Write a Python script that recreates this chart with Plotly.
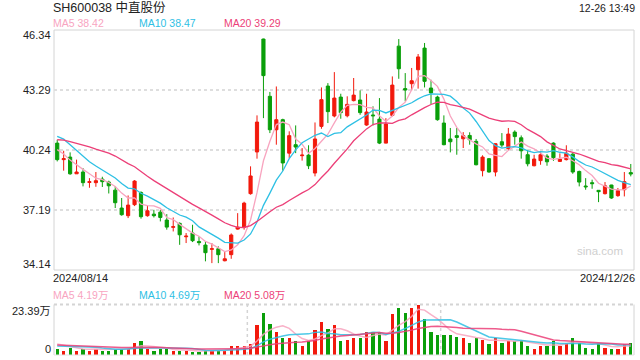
import plotly.graph_objects as go
import pandas as pd

# ---------------- data ----------------
opens = [40.59, 39.75, 39.88, 39.03, 39.12, 38.59, 38.58, 38.76, 38.61, 38.20,
         37.29, 36.90, 37.46, 38.08, 36.90, 36.98, 37.08, 36.68, 36.31, 36.51,
         35.83, 36.02, 35.59, 35.41, 35.19, 35.22, 34.61, 34.92, 36.22, 36.31,
         38.02, 40.14, 45.88, 42.97, 41.27, 41.78, 40.08, 40.51, 39.95, 39.98,
         39.07, 41.44, 43.49, 41.97, 42.93, 41.98, 42.75, 42.78, 41.51, 42.02,
         41.81, 40.59, 42.00, 45.52, 43.36, 43.61, 44.32, 45.42, 43.39, 42.93,
         41.61, 40.80, 40.97, 40.81, 40.98, 40.68, 39.19, 39.80, 39.12, 40.66,
         40.31, 41.15, 40.86, 40.00, 39.44, 39.70, 39.93, 40.59, 39.66, 39.75,
         40.03, 39.15, 38.41, 38.58, 38.19, 38.02, 38.46, 37.92, 38.22, 39.09]
highs = [40.76, 40.20, 40.12, 39.75, 39.32, 38.81, 39.12, 38.88, 38.68, 38.41,
         37.80, 37.93, 38.71, 38.14, 37.42, 37.20, 37.20, 36.98, 36.81, 36.56,
         36.02, 36.44, 35.85, 35.59, 35.51, 35.34, 35.05, 36.00, 37.03, 37.61,
         39.41, 42.00, 45.90, 43.19, 43.47, 41.83, 41.19, 41.49, 40.34, 40.48,
         41.64, 43.42, 43.64, 44.20, 43.10, 42.97, 43.90, 43.27, 43.10, 42.46,
         42.88, 41.86, 43.98, 45.88, 44.15, 44.41, 45.12, 45.68, 43.81, 43.00,
         42.00, 41.36, 41.36, 41.15, 41.14, 40.80, 39.97, 39.83, 40.59, 41.10,
         41.36, 41.24, 40.98, 40.25, 40.00, 40.17, 40.03, 40.63, 40.07, 40.48,
         40.08, 39.19, 38.81, 38.73, 38.19, 38.61, 38.47, 38.31, 39.12, 39.53]
lows = [39.66, 39.19, 38.98, 39.02, 38.39, 38.32, 38.37, 38.36, 38.03, 37.29,
        36.90, 36.78, 37.39, 36.75, 36.85, 36.81, 36.61, 36.19, 36.10, 35.42,
        35.51, 35.56, 35.39, 34.58, 34.49, 34.49, 34.58, 34.71, 36.19, 36.19,
        37.97, 39.80, 41.86, 41.10, 40.51, 39.19, 39.83, 40.08, 39.70, 39.27,
        38.90, 41.32, 41.61, 41.90, 41.83, 41.90, 42.71, 42.03, 41.47, 41.49,
        40.54, 40.58, 41.95, 43.86, 42.71, 43.27, 43.36, 43.42, 42.58, 41.73,
        40.48, 40.12, 40.00, 40.34, 40.51, 39.46, 38.90, 39.09, 38.90, 40.37,
        40.24, 40.51, 39.80, 39.41, 39.41, 39.49, 39.44, 39.69, 39.63, 39.71,
        39.03, 38.39, 38.22, 38.27, 37.59, 37.98, 37.76, 37.86, 37.88, 38.90]
closes = [39.75, 39.80, 39.03, 39.12, 38.58, 38.63, 38.68, 38.63, 38.42, 37.56,
          36.95, 37.44, 38.66, 36.85, 37.15, 36.90, 36.81, 36.32, 36.34, 35.93,
          35.86, 35.63, 35.53, 35.02, 35.22, 34.92, 34.71, 35.92, 36.32, 37.54,
          38.92, 41.66, 44.02, 41.27, 41.78, 39.58, 40.97, 40.39, 39.98, 39.44,
          40.80, 42.80, 42.19, 42.88, 42.14, 42.56, 43.03, 42.14, 42.17, 41.98,
          40.59, 41.56, 43.54, 44.37, 43.29, 43.76, 44.97, 43.73, 43.14, 41.78,
          40.51, 40.66, 40.88, 40.97, 40.76, 39.49, 39.88, 39.12, 40.56, 40.49,
          41.05, 40.92, 40.20, 39.54, 39.78, 40.00, 39.64, 39.85, 39.78, 40.08,
          39.12, 38.61, 38.37, 38.53, 38.12, 38.42, 37.80, 38.17, 38.63, 39.02]
# volume in 万 (10k shares)
volumes = [2.8, 2.3, 3.7, 2.3, 2.8, 2.3, 2.8, 2.3, 2.3, 3.2,
           3.2, 2.8, 5.6, 6.5, 2.8, 1.9, 2.8, 2.8, 2.3, 2.3,
           1.9, 1.4, 1.4, 2.3, 2.3, 2.3, 1.9, 4.2, 4.6, 4.6,
           5.1, 13.9, 19.6, 14.8, 11.1, 8.3, 7.9, 6.5, 4.2, 6.5,
           12.0, 15.7, 12.5, 13.9, 6.5, 7.4, 8.3, 7.9, 10.7, 10.7,
           10.7, 6.5, 19.0, 21.8, 19.5, 22.2, 23.39, 17.1, 11.1, 9.7,
           9.7, 9.7, 8.8, 7.9, 6.0, 7.9, 7.4, 5.1, 7.9, 6.0,
           6.5, 6.5, 6.5, 4.6, 3.2, 4.2, 4.6, 6.5, 4.6, 6.0,
           7.9, 5.6, 3.7, 3.2, 6.0, 3.7, 3.2, 2.8, 5.3, 5.8]
# estimated sessions before 2024/08/14 (only used to seed the moving averages)
pre_closes = [40.2, 40.5, 40.8, 40.4, 40.6, 40.9, 40.7, 40.3, 40.6, 40.9,
              41.2, 41.8, 42.0, 41.7, 41.3, 40.9, 40.6, 40.2, 39.85]
pre_volumes = [5.2, 4.8, 5.5, 4.6, 5.1, 4.9, 5.3, 4.7, 4.9, 5.0,
               3.4, 3.1, 3.5, 3.2, 3.3, 5.5, 6.0, 5.6, 5.6]

title_text = "SH600038 中直股份"
time_text = "12-26 13:49"
start_label = "2024/08/14"
end_label = "2024/12/26"
price_ma_labels = ["MA5 38.42", "MA10 38.47", "MA20 39.29"]
vol_ma_labels = ["MA5 4.19万", "MA10 4.69万", "MA20 5.08万"]
price_ticks = [46.34, 43.29, 40.24, 37.19, 34.14]
vol_ticks = ["23.39万", "0"]
vol_max = 23.39

# ---------------- styling ----------------
W, H = 640, 360
RED = "#f2190c"
GREEN = "#0a9f0a"
C_MA5 = "#f8a4bf"
C_MA10 = "#2ec0e4"
C_MA20 = "#ec3f78"
FONT = "Liberation Sans, Arial, Noto Sans CJK SC, sans-serif"

n = len(closes)
idx = list(range(n))

cl = pd.Series(pre_closes + closes)
vo = pd.Series(pre_volumes + volumes)
k = len(pre_closes)
ma = {p: cl.rolling(p).mean().iloc[k:].tolist() for p in (5, 10, 20)}
vma = {p: vo.rolling(p).mean().iloc[k:].tolist() for p in (5, 10, 20)}

L, R = 54, 634
PT, PB = 30, 270
VT, VB = 304.5, 355


def px(x):
    return x / W


def py(y):
    return 1 - y / H


fig = go.Figure()
fig.add_trace(go.Candlestick(
    x=idx, open=opens, high=highs, low=lows, close=closes,
    increasing=dict(line=dict(color=RED, width=1), fillcolor=RED),
    decreasing=dict(line=dict(color=GREEN, width=1), fillcolor=GREEN),
    whiskerwidth=0, xaxis="x", yaxis="y", showlegend=False))
for p, c in ((5, C_MA5), (10, C_MA10), (20, C_MA20)):
    fig.add_trace(go.Scatter(x=idx, y=ma[p], mode="lines",
                             line=dict(color=c, width=1.3), xaxis="x", yaxis="y",
                             showlegend=False, hoverinfo="skip"))

vcolors = [RED if c >= o else GREEN for o, c in zip(opens, closes)]
fig.add_trace(go.Bar(x=idx, y=volumes, marker=dict(color=vcolors, line=dict(width=0)),
                     width=0.5, xaxis="x2", yaxis="y2", showlegend=False))
for p, c in ((5, C_MA5), (10, C_MA10), (20, C_MA20)):
    fig.add_trace(go.Scatter(x=idx, y=vma[p], mode="lines",
                             line=dict(color=c, width=1.5), opacity=0.85,
                             xaxis="x2", yaxis="y2", showlegend=False, hoverinfo="skip"))

xdom = [px(L), px(R)]
fig.update_layout(
    width=W, height=H, margin=dict(l=0, r=0, t=0, b=0),
    paper_bgcolor="white", plot_bgcolor="white",
    font=dict(family=FONT, size=11, color="#222"),
    bargap=0,
    xaxis=dict(domain=xdom, range=[-0.5, n - 0.5], anchor="y", showticklabels=False,
               showgrid=False, zeroline=False, rangeslider=dict(visible=False), fixedrange=True),
    yaxis=dict(domain=[py(PB), py(PT)], range=[price_ticks[-1], price_ticks[0]], anchor="x",
               tickvals=price_ticks[1:-1], showticklabels=False, showgrid=True,
               gridcolor="#dedede", griddash="dot", gridwidth=2, zeroline=False, fixedrange=True),
    xaxis2=dict(domain=xdom, range=[-0.5, n - 0.5], anchor="y2", showticklabels=False,
                showgrid=False, zeroline=False, fixedrange=True),
    yaxis2=dict(domain=[py(VB), py(VT)], range=[0, vol_max], anchor="x2",
                showticklabels=False, showgrid=False, zeroline=False, fixedrange=True),
)

shapes = [
    dict(type="rect", xref="paper", yref="paper", x0=px(L), x1=px(R), y0=py(PB), y1=py(PT),
         line=dict(color="#d4d4d4", width=1), layer="below"),
    dict(type="line", xref="paper", yref="paper", x0=px(L), x1=px(R), y0=py(VT), y1=py(VT),
         line=dict(color="#d4d4d4", width=2, dash="dot")),
    dict(type="line", xref="paper", yref="paper", x0=px(L), x1=px(L), y0=py(VB), y1=py(VT),
         line=dict(color="#d4d4d4", width=1)),
    dict(type="line", xref="paper", yref="paper", x0=px(R), x1=px(R), y0=py(VB), y1=py(VT),
         line=dict(color="#d4d4d4", width=1)),
    dict(type="line", xref="paper", yref="paper", x0=px(L), x1=px(R), y0=py(VB), y1=py(VB),
         line=dict(color="#e4e4e4", width=1)),
]
for t in (1, 2):
    xx = L + (R - L) * t / 3
    shapes.append(dict(type="line", xref="paper", yref="paper", x0=px(xx), x1=px(xx),
                       y0=py(VB), y1=py(VT), line=dict(color="#d4d4d4", width=1.5, dash="dot"),
                       layer="below"))
fig.update_layout(shapes=shapes)

ann = []


def text(s, x, y, color="#222", size=11, xanchor="left", yanchor="middle"):
    ann.append(dict(text=s, x=px(x), y=py(y), xref="paper", yref="paper", showarrow=False,
                    xanchor=xanchor, yanchor=yanchor, font=dict(color=color, size=size, family=FONT),
                    borderpad=0, borderwidth=0))


text(title_text, 53, 7.5, size=12.5)
text(time_text, R + 1, 8, size=10.5, xanchor="right")
for s, x, c in zip(price_ma_labels, (53, 138.5, 223.5), (C_MA5, C_MA10, C_MA20)):
    text(s, x, 23.5, color=c, size=10.5)
for v in price_ticks:
    yy = PT + (price_ticks[0] - v) / (price_ticks[0] - price_ticks[-1]) * (PB - PT)
    if v == price_ticks[0]:
        yy += 5.5
    elif v == price_ticks[-1]:
        yy -= 6.5
    text(f"{v:.2f}", 51, yy, size=11, xanchor="right")
text(start_label, 53, 277.5, size=11)
text(end_label, R + 1, 277.5, size=11, xanchor="right")
for s, x, c in zip(vol_ma_labels, (53, 138.5, 223.5), (C_MA5, C_MA10, C_MA20)):
    text(s, x, 295, color=c, size=10.5)
text(vol_ticks[0], 51, 311, size=11, xanchor="right")
text(vol_ticks[1], 51, 349, size=11, xanchor="right")
text("sina.com", 623, 250.5, color="#cfcfcf", size=11.5, xanchor="right")
fig.update_layout(annotations=ann)

fig.write_html("out.html")
